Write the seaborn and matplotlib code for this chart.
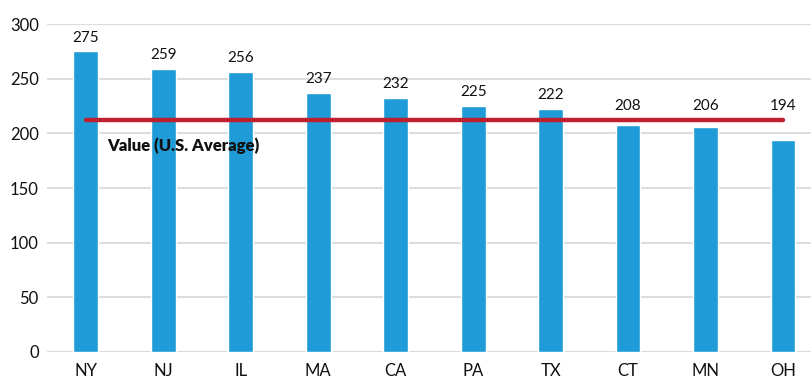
import matplotlib
matplotlib.use("Agg")
import matplotlib.pyplot as plt
import seaborn as sns
import pandas as pd

states = ["NY", "NJ", "IL", "MA", "CA", "PA", "TX", "CT", "MN", "OH"]
values = [275, 259, 256, 237, 232, 225, 222, 208, 206, 194]
us_average = 212
average_label = "Value (U.S. Average)"
y_ticks = [0, 50, 100, 150, 200, 250, 300]

df = pd.DataFrame({"state": states, "value": values})

sns.set_style("white")
plt.rcParams["font.family"] = ["Lato", "DejaVu Sans"]

fig = plt.figure(figsize=(8.12, 3.83), dpi=100)
ax = fig.add_axes([0.058, 0.081, 0.942, 0.856])

sns.barplot(data=df, x="state", y="value", color="#1F9BD7", width=0.32,
            saturation=1, ax=ax, zorder=3)

# value labels sit above the bar, or above the average line when the bar is lower
for i, v in enumerate(values):
    anchor = max(v, us_average)
    ax.annotate(f"{v}", (i, anchor), xytext=(0, 5), textcoords="offset points",
                ha="center", va="bottom", fontsize=11, color="#111111")

ax.plot([0, len(states) - 1], [us_average, us_average], color="#C0202E",
        linewidth=3.2, solid_capstyle="round", zorder=4)
ax.annotate(average_label, (0.28, us_average), xytext=(0, -12),
            textcoords="offset points", ha="left", va="top",
            fontsize=12, fontweight="heavy", color="#111111")

ax.set_ylim(0, 300)
ax.set_xlim(-0.5, len(states) - 0.625)
ax.set_yticks(y_ticks)
ax.yaxis.grid(True, color="#DDDDDD", linewidth=1.5, zorder=0)
ax.set_axisbelow(True)
for s in ax.spines.values():
    s.set_visible(False)
ax.tick_params(axis="both", length=0, labelsize=12, colors="#111111")
ax.tick_params(axis="x", pad=8)
ax.tick_params(axis="y", pad=6)
ax.set_xlabel("")
ax.set_ylabel("")

fig.savefig("out.png", dpi=100)
